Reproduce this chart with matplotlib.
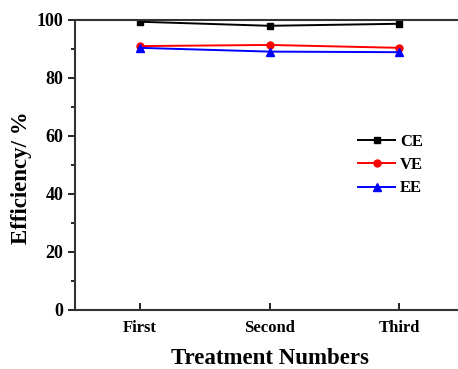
import numpy as np
import matplotlib
matplotlib.use('Agg')
import matplotlib.pyplot as plt
from matplotlib.ticker import MultipleLocator

plt.rcParams['font.family'] = ['Liberation Serif', 'DejaVu Serif']
plt.rcParams['font.weight'] = 'bold'

categories = ['First', 'Second', 'Third']
ce = [99.4, 98.0, 98.7]
ve = [91.0, 91.4, 90.4]
ee = [90.4, 89.1, 88.9]

x = np.arange(1, len(categories) + 1)

fig = plt.figure(figsize=(4.58, 3.69), dpi=100)
ax = fig.add_axes([75/458, 1 - 310/369, 389/458, 290/369])

ax.plot(x, ce, color='black', marker='s', ms=5, lw=1.4, label='CE')
ax.plot(x, ve, color='red', marker='o', ms=5, lw=1.4, label='VE')
ax.plot(x, ee, color='blue', marker='^', ms=5.5, lw=1.4, label='EE')

ax.set_xlim(0.5, 3.5)
ax.set_ylim(0, 100)
ax.set_xticks(x)
ax.set_xticklabels(categories)
ax.yaxis.set_major_locator(MultipleLocator(20))
ax.yaxis.set_minor_locator(MultipleLocator(10))
ax.tick_params(axis='x', direction='in', length=5, width=1.2, labelsize=12, pad=7)
ax.tick_params(axis='y', which='major', direction='out', length=5, width=1.2, labelsize=13)
ax.tick_params(axis='y', which='minor', direction='out', length=3, width=1.2)
for s in ax.spines.values():
    s.set_linewidth(1.5)
    s.set_color('#333333')

ax.set_xlabel('Treatment Numbers', fontsize=16.5, fontweight='bold', labelpad=9)
ax.set_ylabel('Efficiency/ %', fontsize=16.5, fontweight='bold')
ax.yaxis.set_label_coords(-0.11, 0.455)

leg = ax.legend(loc='center left', bbox_to_anchor=(0.69, 0.50), frameon=False,
                fontsize=12, handlelength=2.2, handletextpad=0.3, labelspacing=0.45)

fig.savefig('out.png', dpi=100)
